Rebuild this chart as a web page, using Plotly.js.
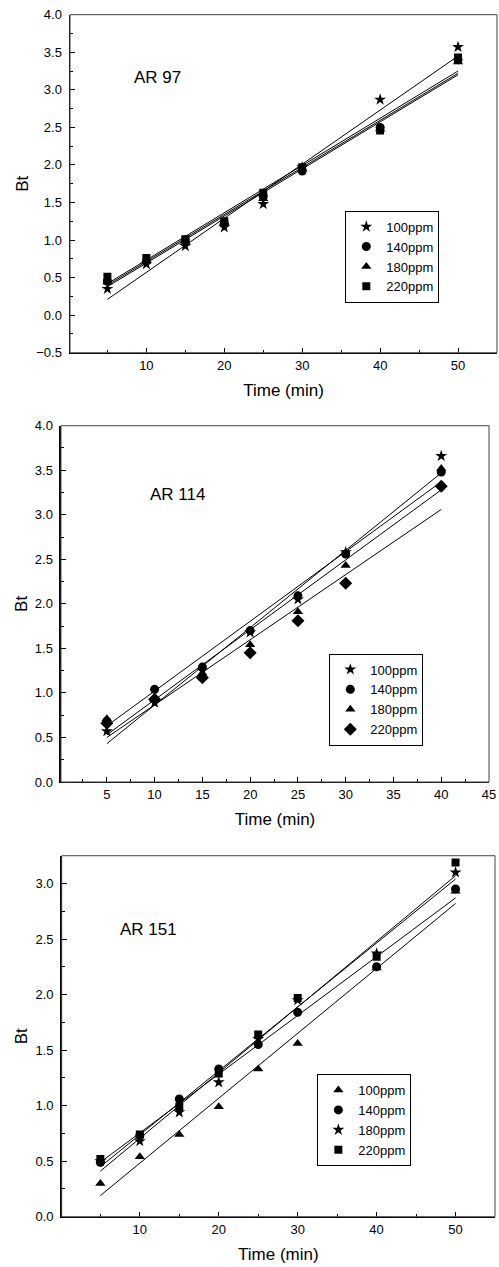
<!DOCTYPE html>
<html><head><meta charset="utf-8">
<script src="https://cdn.plot.ly/plotly-3.0.1.min.js"></script>
<style>html,body{margin:0;padding:0;background:#fff;} #chart{width:499px;height:1267px;}</style>
</head><body><div id="chart"></div>
<script>
// ---------- Panel 1: AR 97 ----------
const time97 = [5, 10, 15, 20, 25, 30, 40, 50];
const ar97_100 = [0.35, 0.68, 0.92, 1.17, 1.48, 1.97, 2.87, 3.57];
const ar97_140 = [0.45, 0.72, 1.00, 1.22, 1.58, 1.92, 2.50, 3.40];
const ar97_180 = [0.44, 0.72, 0.98, 1.23, 1.55, 1.95, 2.48, 3.37];
const ar97_220 = [0.51, 0.76, 1.01, 1.25, 1.63, 1.97, 2.46, 3.43];
const fitX97 = [5, 50];
const fit97_100 = [0.21, 3.45];
const fit97_140 = [0.40, 3.22];
const fit97_180 = [0.38, 3.20];
const fit97_220 = [0.42, 3.25];

// ---------- Panel 2: AR 114 ----------
const time114 = [5, 10, 15, 20, 25, 30, 40];
const ar114_100 = [0.57, 0.89, 1.25, 1.68, 2.05, 2.58, 3.66];
const ar114_140 = [0.68, 1.04, 1.29, 1.70, 2.09, 2.56, 3.48];
const ar114_180 = [0.71, 0.95, 1.22, 1.54, 1.91, 2.43, 3.52];
const ar114_220 = [0.66, 0.93, 1.17, 1.45, 1.81, 2.23, 3.32];
const fitX114 = [5, 40];
const fit114_100 = [0.43, 3.47];
const fit114_140 = [0.63, 3.37];
const fit114_180 = [0.53, 3.28];
const fit114_220 = [0.50, 3.06];

// ---------- Panel 3: AR 151 ----------
const time151 = [5, 10, 15, 20, 25, 30, 40, 50];
const ar151_100 = [0.30, 0.54, 0.74, 0.99, 1.33, 1.56, 2.24, 2.93];
const ar151_140 = [0.49, 0.73, 1.06, 1.33, 1.55, 1.84, 2.25, 2.95];
const ar151_180 = [0.50, 0.68, 0.94, 1.21, 1.60, 1.95, 2.37, 3.10];
const ar151_220 = [0.52, 0.74, 0.99, 1.29, 1.64, 1.97, 2.34, 3.19];
const fitX151 = [5, 50];
const fit151_100 = [0.19, 2.82];
const fit151_140 = [0.49, 2.87];
const fit151_180 = [0.45, 3.04];
const fit151_220 = [0.41, 3.07];

const seriesNames = ['100ppm', '140ppm', '180ppm', '220ppm'];
const panelLabels = ['AR 97', 'AR 114', 'AR 151'];
const xTitle = 'Time (min)';
const yTitle = 'Bt';

const FONT = 'Arial, "Liberation Sans", sans-serif';
const symSize = {star: 9, circle: 9, 'triangle-up': 9, square: 8, diamond: 10};

const traces = [];
function addPanel(n, xs, ys, symbols, fitX, fits) {
  const xa = n === 1 ? 'x' : 'x' + n;
  const ya = n === 1 ? 'y' : 'y' + n;
  const lg = n === 1 ? 'legend' : 'legend' + n;
  fits.forEach(f => traces.push({
    x: fitX, y: f, xaxis: xa, yaxis: ya, mode: 'lines', showlegend: false,
    line: {color: '#000', width: 1}, hoverinfo: 'skip'
  }));
  ys.forEach((y, i) => traces.push({
    x: xs, y: y, xaxis: xa, yaxis: ya, mode: 'markers', name: seriesNames[i], legend: lg,
    marker: {symbol: symbols[i], size: symSize[symbols[i]], color: '#000', line: {width: 0}}
  }));
}
addPanel(1, time97, [ar97_100, ar97_140, ar97_180, ar97_220],
  ['star', 'circle', 'triangle-up', 'square'], fitX97, [fit97_100, fit97_140, fit97_180, fit97_220]);
addPanel(2, time114, [ar114_100, ar114_140, ar114_180, ar114_220],
  ['star', 'circle', 'triangle-up', 'diamond'], fitX114, [fit114_100, fit114_140, fit114_180, fit114_220]);
addPanel(3, time151, [ar151_100, ar151_140, ar151_180, ar151_220],
  ['triangle-up', 'circle', 'star', 'square'], fitX151, [fit151_100, fit151_140, fit151_180, fit151_220]);

function xAxis(domain, range, dtick, anchor) {
  return {
    domain: domain, range: range, anchor: anchor, tickmode: 'linear', tick0: 0, dtick: dtick,
    showline: true, linecolor: '#000', linewidth: 1.5, ticks: 'inside', ticklen: 5, tickwidth: 1, tickcolor: '#000',
    showgrid: false, zeroline: false, tickfont: {family: FONT, size: 13, color: '#000'},
    minor: {ticks: 'inside', ticklen: 3, tickwidth: 1, tickcolor: '#000', dtick: dtick / 2, tick0: 0, showgrid: false},
    title: {text: xTitle, font: {family: FONT, size: 17, color: '#000'}, standoff: 12},
    fixedrange: true
  };
}
function yAxis(domain, range, anchor) {
  return {
    domain: domain, range: range, anchor: anchor, tickmode: 'linear', tick0: 0, dtick: 0.5, tickformat: '.1f',
    showline: true, linecolor: '#000', linewidth: 1.5, ticks: 'inside', ticklen: 5, tickwidth: 1, tickcolor: '#000',
    showgrid: false, zeroline: false, tickfont: {family: FONT, size: 13, color: '#000'}, ticklabelstandoff: 4,
    minor: {ticks: 'inside', ticklen: 3, tickwidth: 1, tickcolor: '#000', dtick: 0.25, tick0: 0, showgrid: false},
    title: {text: yTitle, font: {family: FONT, size: 17, color: '#000'}, standoff: 3},
    fixedrange: true
  };
}
function legendAt(x, y) {
  return {x: x, y: y, xanchor: 'left', yanchor: 'middle', bgcolor: '#fff', bordercolor: '#000', borderwidth: 1,
    font: {family: FONT, size: 13, color: '#000'}, itemclick: false, itemdoubleclick: false};
}
function frame(n) {
  const s = n === 1 ? '' : String(n);
  return {type: 'rect', xref: 'x' + s + ' domain', yref: 'y' + s + ' domain', x0: 0, x1: 1, y0: 0, y1: 1,
    line: {color: '#444', width: 1}, fillcolor: 'rgba(0,0,0,0)', layer: 'above'};
}
function label(n, text, x, y) {
  const s = n === 1 ? '' : String(n);
  return {text: text, xref: 'x' + s, yref: 'y' + s, x: x, y: y, xanchor: 'left', yanchor: 'middle',
    showarrow: false, font: {family: FONT, size: 17, color: '#000'}};
}

const layout = {
  width: 499, height: 1267, margin: {l: 0, r: 0, t: 0, b: 0},
  paper_bgcolor: '#fff', plot_bgcolor: '#fff', showlegend: true, hovermode: false,
  xaxis: xAxis([0.1403, 0.9960], [0.2, 55], 10, 'y'),
  yaxis: yAxis([0.7216, 0.9884], [-0.5, 4.0], 'x'),
  xaxis2: xAxis([0.1222, 0.9800], [0.2, 45], 5, 'y2'),
  yaxis2: yAxis([0.3828, 0.6640], [0, 4.0], 'x2'),
  xaxis3: xAxis([0.1236, 0.9920], [0.1, 55], 10, 'y3'),
  yaxis3: yAxis([0.0397, 0.3246], [0, 3.25], 'x3'),
  legend: legendAt(0.692, 0.7974),
  legend2: legendAt(0.660, 0.4479),
  legend3: legendAt(0.636, 0.1160),
  shapes: [frame(1), frame(2), frame(3)],
  annotations: [
    label(1, panelLabels[0], 8.1, 3.16),
    label(2, panelLabels[1], 9.35, 3.23),
    label(3, panelLabels[2], 7.25, 2.59)
  ]
};

Plotly.newPlot('chart', traces, layout, {displayModeBar: false, staticPlot: true});
</script>
</body></html>
